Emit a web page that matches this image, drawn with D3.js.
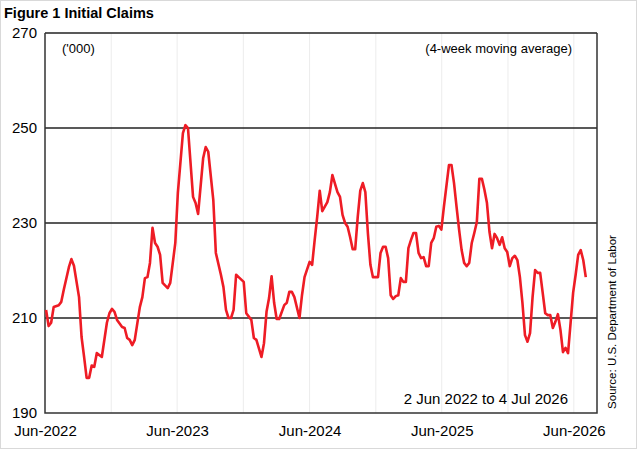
<!DOCTYPE html>
<html>
<head>
<script src="https://d3js.org/d3.v7.min.js"></script>
<style>
  body { margin: 0; background: #fff; }
  text { font-family: Arial, "Liberation Sans", sans-serif; }
</style>
</head>
<body>
<div id="chart"></div>
<script>
// Week offsets from 4 Jun 2022 and 4-week moving average ('000)
const weeks = [0,1,2,3,5,6,7,9,10,11,13,14,15,16,17,18,19,20,22,24,25,26,27,28,30,31,32,33,34,35,37,38,39,40,41,42,43,44,45,46,48,49,51,52,54,55,56,58,59,60,62,63,64,66,67,69,70,71,72,73,74,75,76,
  78,79,81,82,83,85,86,87,88,89,90,91,92,94,95,96,97,98,100,101,102,104,105,106,107,108,109,111,112,113,115,116,117,118,119,120,121,122,123,124,125,126,127,128,129,131,132,133,134,135,136,137,138,139,140,141,142,143,144,145,146,147,148,149,150,151,
  152,153,154,155,156,157,159,160,161,162,163,164,165,166,167,168,169,170,171,172,173,174,175,176,177,178,179,180,181,182,183,184,185,186,187,188,189,190,191,192,193,194,195,196,197,198,199,200,201,202,203,204,205,206,207,208,209,210,211,212,213];
const claims = [211.7,208.3,209,212.3,212.7,213.4,216,220.7,222.4,221,214.4,206,201.8,197.4,197.4,200,199.7,202.6,201.8,209,211,211.9,211.3,209.6,208.1,207.9,205.8,205.4,204.3,205.4,212.3,214.4,218.4,218.6,221.6,229,225.8,225,223.3,217.4,216.3,217.4,225.8,236.3,248.9,250.6,250,235.5,234.2,231.9,243.7,246,245,234.8,223.7,219.1,216.5,211.7,210,210,211.7,219.1,218.6,
  217.6,211,209.6,205.8,205.4,201.8,204.7,211.3,214.2,218.8,213.2,209.8,209.8,212.7,213.2,215.5,215.5,214.4,210,214.8,218.6,221.8,221.2,226.4,231.3,236.8,232.5,234.4,236.5,240.1,236.5,235.5,231.7,230,229.2,227,224.5,224.5,231.3,236.8,238.4,236.5,227.9,221.2,218.6,218.6,223.7,225,225,222.6,214.8,214,214.6,214.8,218.4,217.6,217.6,224.7,226.4,227.9,227.9,223.7,222.6,222.8,220.9,220.9,
  225.8,226.8,229.2,229.4,228.6,233.4,242.2,242.2,238.4,233.4,228.6,224.3,221.6,220.9,221.6,225.8,227.9,230.2,239.3,239.3,237,234.2,228.1,224.7,227.7,226.8,225.4,227,224.7,223.9,220.9,222.6,223.1,222.2,218.6,213.2,206.4,205,206.8,214.4,220.1,219.5,219.5,215.3,211,210.6,210.6,207.9,209.2,210.8,207.5,202.8,203.7,202.6,208.9,215.3,219.1,223.3,224.3,222.2,218.6];
const yTicks = [190, 210, 230, 250, 270];
const xTickLabels = ["Jun-2022", "Jun-2023", "Jun-2024", "Jun-2025", "Jun-2026"];

const W = 637, H = 449;
const plotL = 45, plotR = 597, plotT = 33, plotB = 413;
const start = new Date(2022, 5, 4);
const data = weeks.map((w, i) => ({ date: d3.timeDay.offset(start, w * 7), v: claims[i] }))
  .filter(d => d.v !== undefined);

const svg = d3.select("#chart").append("svg").attr("width", W).attr("height", H);
svg.append("rect").attr("x", 0.5).attr("y", 0.5).attr("width", W - 1).attr("height", H - 1)
  .attr("fill", "#fff").attr("stroke", "#d9d9d9");

const x = d3.scaleTime().domain([new Date(2022, 5, 1), new Date(2026, 7, 4)]).range([plotL, plotR]);
const y = d3.scaleLinear().domain([190, 270]).range([plotB, plotT]);

// faint half-year verticals
svg.append("g").selectAll("line").data(d3.timeMonth.range(new Date(2022, 11, 1), new Date(2026, 7, 1), 6))
  .join("line").attr("x1", d => x(d)).attr("x2", d => x(d)).attr("y1", plotT).attr("y2", plotB)
  .attr("stroke", "#ececec").attr("stroke-width", 1);

// horizontal gridlines
svg.append("g").selectAll("line").data(yTicks.slice(1))
  .join("line").attr("x1", plotL).attr("x2", plotR).attr("y1", d => y(d)).attr("y2", d => y(d))
  .attr("stroke", "#222").attr("stroke-width", 1.3);

// frame
svg.append("path").attr("d", `M${plotL},${plotT}V${plotB}H${plotR}V${plotT}`)
  .attr("fill", "none").attr("stroke", "#333").attr("stroke-width", 1.5);

// y axis labels
const yAxis = svg.append("g").attr("transform", `translate(${plotL},0)`)
  .call(d3.axisLeft(y).tickValues(yTicks).tickSize(0).tickPadding(8));
yAxis.select(".domain").remove();
yAxis.selectAll("text").style("font-size", "15px").attr("fill", "#000");

// x axis labels
const xTicks = xTickLabels.map((s, i) => new Date(2022 + i, 5, 1));
const xAxis = svg.append("g").attr("transform", `translate(0,${plotB})`)
  .call(d3.axisBottom(x).tickValues(xTicks).tickFormat((d, i) => xTickLabels[i]).tickSize(0).tickPadding(12));
xAxis.select(".domain").remove();
xAxis.selectAll("text").style("font-size", "15px").attr("fill", "#000");

// line
svg.append("path").datum(data)
  .attr("d", d3.line().x(d => x(d.date)).y(d => y(d.v)))
  .attr("fill", "none").attr("stroke", "#ee1c25").attr("stroke-width", 2.6).attr("stroke-linejoin", "round");

// text
svg.append("text").attr("x", 4).attr("y", 18).style("font-size", "14.5px").style("font-weight", "bold").text("Figure 1 Initial Claims");
svg.append("text").attr("x", 62).attr("y", 53).style("font-size", "13px").text("('000)");
svg.append("text").attr("x", 572).attr("y", 53).attr("text-anchor", "end").style("font-size", "13px").text("(4-week moving average)");
svg.append("text").attr("x", 568).attr("y", 404).attr("text-anchor", "end").style("font-size", "15px").text("2 Jun 2022 to  4 Jul 2026");
svg.append("text").attr("transform", "translate(616,322) rotate(-90)").attr("text-anchor", "middle")
  .style("font-size", "11.5px").text("Source: U.S. Department of Labor");
</script>
</body>
</html>
